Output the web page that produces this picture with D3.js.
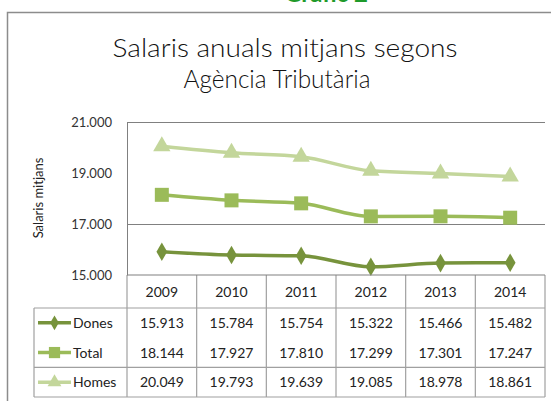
<!DOCTYPE html>
<html>
<head>
<meta charset="utf-8">
<script src="https://cdn.jsdelivr.net/npm/d3@7"></script>
<style>
  body { margin: 0; background: #fff; }
  svg text { font-family: Lato, "Open Sans", sans-serif; }
</style>
</head>
<body>
<svg id="chart" width="551" height="401"></svg>
<script>
// data
var years = ["2009", "2010", "2011", "2012", "2013", "2014"];
var dones = [15913, 15784, 15754, 15322, 15466, 15482];
var total = [18144, 17927, 17810, 17299, 17301, 17247];
var homes = [20049, 19793, 19639, 19085, 18978, 18861];
var yTicks = [15000, 17000, 19000, 21000];
var gridTicks = [17000, 21000];

var series = [
  { name: "Dones", values: dones, colour: "#77933c", marker: "diamond" },
  { name: "Total", values: total, colour: "#9bbb59", marker: "square" },
  { name: "Homes", values: homes, colour: "#c3d69b", marker: "triangle" }
];

var svg = d3.select("#chart");
var fmt = d3.format(",.0f");
function num(v) { return fmt(v).replace(/,/g, "."); }

// plot area
var plotLeft = 127, plotRight = 545, plotTop = 122, plotBottom = 275;
var x = d3.scaleBand().domain(years).range([plotLeft, plotRight]);
var y = d3.scaleLinear().domain([15000, 21000]).range([plotBottom, plotTop]);
function cx(i) { return x(years[i]) + x.bandwidth() / 2; }

// outer frame (runs off the right and bottom edge)
svg.append("rect")
  .attr("x", 7.5).attr("y", 12.5)
  .attr("width", 560).attr("height", 400)
  .attr("fill", "none").attr("stroke", "#8c8c8c").attr("stroke-width", 1.5);

// heading above the frame, cut by the top edge as in the original
svg.append("text")
  .attr("x", 326).attr("y", 2)
  .attr("text-anchor", "middle")
  .attr("font-size", 24).attr("font-weight", "bold")
  .attr("fill", "#1f9a2a")
  .text("Gràfic 2");

// title
svg.append("text")
  .attr("x", 285).attr("y", 57)
  .attr("text-anchor", "middle")
  .attr("font-size", 25).attr("font-weight", 300).attr("fill", "#111")
  .attr("textLength", 345).attr("lengthAdjust", "spacingAndGlyphs")
  .text("Salaris anuals  mitjans segons");
svg.append("text")
  .attr("x", 277).attr("y", 88)
  .attr("text-anchor", "middle")
  .attr("font-size", 25).attr("font-weight", 300).attr("fill", "#111")
  .attr("textLength", 187).attr("lengthAdjust", "spacingAndGlyphs")
  .text("Agència Tributària");

// gridlines
svg.append("g").selectAll("line")
  .data(gridTicks)
  .enter().append("line")
  .attr("x1", plotLeft).attr("x2", plotRight)
  .attr("y1", function (d) { return Math.round(y(d)) + 0.5; })
  .attr("y2", function (d) { return Math.round(y(d)) + 0.5; })
  .attr("stroke", "#808080").attr("stroke-width", 1);

// y axis
var yAxis = svg.append("g")
  .attr("transform", "translate(" + plotLeft + ",0)")
  .call(d3.axisLeft(y).tickValues(yTicks).tickFormat(num).tickSize(0).tickPadding(15));
yAxis.select(".domain").attr("stroke", "#808080");
yAxis.selectAll("text")
  .attr("font-size", 13).attr("fill", "#333")
  .style("font-family", "Lato, 'Open Sans', sans-serif");

svg.append("text")
  .attr("transform", "translate(43,198) rotate(-90)")
  .attr("text-anchor", "middle")
  .attr("font-size", 13).attr("fill", "#222")
  .text("Salaris mitjans");

// markers
function markerPath(type) {
  if (type === "diamond") return d3.symbol(d3.symbolDiamond, 100)();
  if (type === "square") return "M-7,-7H7V7H-7Z";
  return d3.symbol(d3.symbolTriangle, 130)();
}

var line = d3.line()
  .x(function (d, i) { return cx(i); })
  .y(function (d) { return y(d); })
  .curve(d3.curveMonotoneX);

series.slice().reverse().forEach(function (s) {
  svg.append("path")
    .datum(s.values)
    .attr("d", line)
    .attr("fill", "none")
    .attr("stroke", s.colour)
    .attr("stroke-width", 3.5);
  svg.append("g").selectAll("path")
    .data(s.values)
    .enter().append("path")
    .attr("d", markerPath(s.marker))
    .attr("transform", function (d, i) { return "translate(" + cx(i) + "," + y(d) + ")"; })
    .attr("fill", s.colour);
});

// data table
var rowTop = 308, rowH = 29.7, tableBottom = 397, legLeft = 34;
var tbl = svg.append("g").attr("stroke", "#a0a0a0").attr("stroke-width", 1.2);
x.domain().forEach(function (yr) {
  tbl.append("line")
    .attr("x1", x(yr)).attr("x2", x(yr))
    .attr("y1", plotBottom).attr("y2", tableBottom);
});
tbl.append("line").attr("x1", plotRight).attr("x2", plotRight).attr("y1", plotBottom).attr("y2", tableBottom);
tbl.append("line").attr("x1", plotLeft).attr("x2", plotRight).attr("y1", plotBottom).attr("y2", plotBottom).attr("stroke", "#808080");
[rowTop, rowTop + 2 * rowH, tableBottom].forEach(function (yy) {
  tbl.append("line").attr("x1", legLeft).attr("x2", plotRight).attr("y1", yy).attr("y2", yy);
});
tbl.append("line").attr("x1", legLeft).attr("x2", legLeft).attr("y1", rowTop).attr("y2", tableBottom);

// header labels
svg.append("g").selectAll("text")
  .data(years)
  .enter().append("text")
  .attr("x", function (d, i) { return cx(i); })
  .attr("y", 297)
  .attr("text-anchor", "middle")
  .attr("font-size", 14).attr("fill", "#222")
  .text(function (d) { return d; });

// rows
series.forEach(function (s, r) {
  var cy = rowTop + rowH * r + rowH / 2;
  var g = svg.append("g");
  g.append("line")
    .attr("x1", 38).attr("x2", 71)
    .attr("y1", cy).attr("y2", cy)
    .attr("stroke", s.colour).attr("stroke-width", 3.5);
  g.append("path")
    .attr("d", markerPath(s.marker))
    .attr("transform", "translate(54.5," + cy + ") scale(0.8)")
    .attr("fill", s.colour);
  g.append("text")
    .attr("x", 73).attr("y", cy + 5)
    .attr("font-size", 14).attr("fill", "#222")
    .text(s.name);
  g.selectAll(".v")
    .data(s.values)
    .enter().append("text")
    .attr("x", function (d, i) { return cx(i); })
    .attr("y", cy + 5)
    .attr("text-anchor", "middle")
    .attr("font-size", 14).attr("fill", "#222")
    .text(num);
});
</script>
</body>
</html>
